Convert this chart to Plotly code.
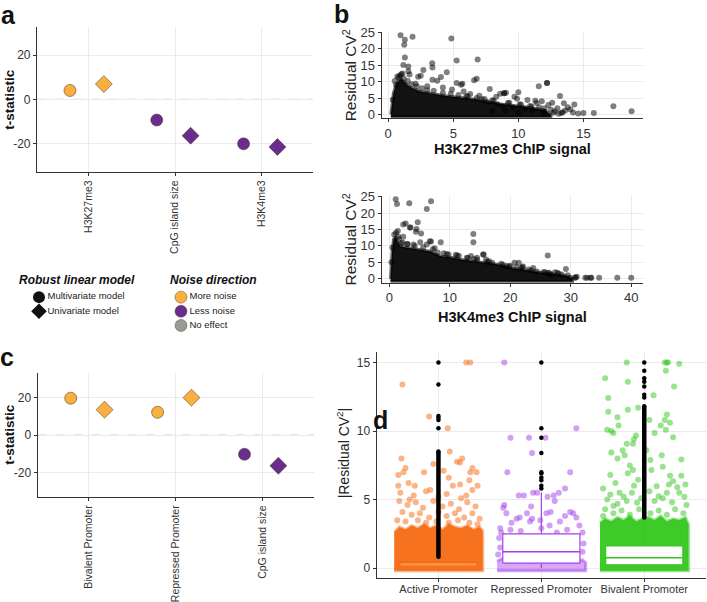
import plotly.graph_objects as go

W, H = 707, 602
FONT = "Liberation Sans, Arial, sans-serif"
ORANGE = "#F9B040"
PURPLE = "#6A2D8F"
GREY = "#9A9A9A"

# ---- panel a / c : robust linear model t-statistics ----
a_features = ["H3K27me3", "CpG island size", "H3K4me3"]
a_multi = [4.0, -9.4, -20.2]
a_uni = [6.9, -16.5, -21.6]

c_features = ["Bivalent Promoter", "Repressed Promoter", "CpG island size"]
c_multi = [19.7, 12.2, -10.2]
c_uni = [13.6, 20.0, -16.3]

# ---- legend ----
model_labels = ["Multivariate model", "Univariate model"]
model_symbols = ["circle", "diamond"]
noise_labels = ["More noise", "Less noise", "No effect"]
noise_colors = [ORANGE, PURPLE, GREY]

# ---- panel b : residual CV2 vs ChIP signal ----
k27_x = [0.95, 1.28, 1.87, 1.23, 1.28, 4.85, 5.26, 6.87, 1.16, 1.54, 3.38, 3.4, 2.7, 4.5, 4.05,
         3.4, 3.77, 6.8, 6.6, 5.26, 5.7, 7.8, 8.6, 8.9, 8.9, 10.0, 11.57, 12.2, 12.2, 13.2, 11.3,
         11.8, 13.5, 14.3, 17.3, 18.7, 15.8, 15.0, 14.2, 13.6, 12.5, 1.55, 1.64, 2.3, 2.5, 5.6,
         9.05, 9.7, 1.1, 0.8, 0.6, 7.2, 7.6, 8.1, 8.4, 8.8, 9.3, 9.6, 10.2, 10.5, 10.9, 11.1,
         11.6, 12.0, 12.3, 12.7, 13.0, 13.4, 14.0, 14.6, 11.4, 10.7, 9.9, 8.3, 6.3, 5.8, 4.9,
         6.0, 7.0, 12.6, 13.8, 9.0, 8.0, 10.0, 11.9, 13.1, 4.2, 3.0, 2.1,
         0.5, 0.7, 0.9, 1.0, 1.2, 1.5, 1.8, 2.2, 2.6, 3.0, 3.5, 4.2, 4.8, 5.4, 6.1, 6.8, 7.4,
         8.0, 9.2, 10.1, 11.0, 12.0, 12.8, 13.3, 0.35]
k27_y = [24.2, 22.8, 23.7, 21.3, 17.4, 23.2, 16.5, 16.8, 15.1, 14.6, 15.6, 14.3, 13.6, 12.9, 11.4,
         10.6, 10.3, 10.9, 10.4, 9.6, 9.4, 7.8, 6.3, 6.5, 6.5, 6.8, 8.6, 9.6, 9.6, 5.6, 4.2,
         4.0, 3.4, 3.0, 2.5, 1.0, 0.4, 0.4, 0.6, 1.2, 1.4, 13.2, 12.2, 11.5, 11.8, 9.1,
         6.6, 5.4, 12.5, 11.3, 9.0, 4.6, 3.8, 4.2, 3.1, 2.4, 3.6, 2.0, 3.0, 1.8, 2.6, 1.2,
         2.2, 0.8, 2.9, 0.5, 1.9, 0.7, 1.5, 0.3, 3.5, 4.4, 4.8, 5.4, 6.2, 7.0, 7.6,
         5.5, 5.7, 3.6, 2.2, 1.2, 1.0, 0.6, 0.3, 0.2, 8.2, 8.6, 9.4,
         10.2, 11.6, 11.9, 12.3, 11.0, 10.2, 9.2, 8.6, 8.0, 7.4, 7.2, 6.6, 6.3, 5.9, 5.6, 5.0, 4.7,
         4.3, 3.5, 3.0, 2.4, 1.9, 1.0, 0.4, 4.5]
k27_core_x = [0.2, 0.4, 0.6, 0.8, 1.0, 1.3, 1.6, 2.0, 2.5, 3.2, 4.0, 4.5, 5.2, 5.8, 6.5, 7.2,
              7.8, 8.5, 9.6, 10.5, 11.2, 12.0, 12.5, 12.5, 0.2]
k27_core_y = [0.0, 6.5, 9.0, 10.3, 10.8, 9.5, 8.5, 7.8, 7.0, 6.5, 5.9, 5.6, 5.3, 5.1, 4.7, 4.2,
              3.7, 3.3, 2.7, 2.3, 1.9, 1.3, 0.0, -0.8, -0.8]

k4_x = [1.06, 1.27, 3.3, 6.9, 6.2, 2.3, 2.7, 3.4, 4.7, 4.5, 5.25, 4.4, 1.4, 2.3, 1.6, 13.9, 13.9,
        8.5, 6.9, 11.0, 15.5, 26.2, 29.2, 20.7, 21.4, 23.8, 22.0, 26.5, 27.8, 27.4, 32.4, 32.7,
        33.4, 34.7, 37.7, 40.0, 29.9, 30.7, 33.3, 13.5, 14.5, 15.6, 16.0, 19.4, 22.1, 24.4,
        6.7, 6.2, 5.1, 3.5, 9.0, 11.5, 7.5, 4.0, 3.0, 12.8, 16.5, 18.5, 19.8, 21.0, 23.0,
        25.5, 26.8, 28.5, 31.0, 2.0, 9.8, 14.0, 17.0, 26.3,
        0.5, 0.8, 1.1, 1.5, 2.2, 3.0, 4.2, 5.6, 7.2, 8.0, 9.5, 11.2, 13.0, 14.5, 16.2, 18.8,
        20.0, 21.8, 23.5, 25.8, 28.0, 29.5, 30.8, 0.35]
k4_y = [24.2, 22.7, 23.0, 23.6, 21.2, 16.5, 16.8, 15.6, 17.2, 15.1, 13.8, 14.3, 14.5, 12.8, 12.1,
        13.6, 11.1, 11.1, 11.3, 7.3, 7.4, 7.1, 3.0, 4.9, 4.9, 3.3, 3.5, 1.7, 1.8, 2.0, 0.3, 0.3,
        0.3, 0.3, 0.3, 0.3, 0.3, 0.3, 0.3, 6.9, 6.4, 7.4, 5.9, 3.9, 3.7, 2.2,
        11.4, 10.4, 11.1, 15.6, 7.8, 7.0, 9.3, 10.4, 10.6, 6.4, 5.3, 4.6, 3.8, 3.5, 2.8,
        2.1, 1.2, 1.3, 0.6, 10.8, 7.4, 6.0, 4.9, 1.8,
        9.5, 13.5, 14.0, 12.8, 11.0, 10.6, 10.0, 9.6, 9.0, 8.0, 7.5, 7.0, 6.3, 5.8, 5.2, 4.3,
        3.9, 3.2, 2.6, 2.0, 1.5, 1.1, 0.4, 5.0]
k4_core_x = [0.2, 0.45, 0.7, 1.0, 1.3, 1.8, 2.6, 3.4, 5.1, 6.7, 8.4, 10.6, 12.3, 15.0, 17.8,
             20.5, 22.7, 25.0, 27.0, 29.0, 30.3, 30.3, 0.2]
k4_core_y = [0.0, 8.0, 12.0, 12.8, 11.5, 9.9, 9.6, 9.4, 8.9, 8.4, 6.9, 6.4, 5.7, 5.1, 4.4,
             3.1, 2.5, 1.8, 1.4, 1.0, 0.0, -0.8, -0.8]

# ---- panel d : |residual CV2| by promoter class ----
d_groups = ["Active Promoter", "Repressed Promoter", "Bivalent Promoter"]
d_colors = ["#F76A12", "#A43FEA", "#34C81F"]

act_off = [-0.09, 0.09, -0.36, 0.23, 0.21, 0.11, 0.18, -0.05, -0.32, -0.39, -0.34, -0.14, 0.05,
           0.1, 0.31, 0.37, 0.33, 0.30, -0.29, -0.23, -0.37, -0.39, -0.08, 0.14, 0.21, 0.38,
           0.27, 0.08, -0.24, 0.27, 0.31, -0.35, -0.38, -0.3, -0.22, -0.15, -0.05, 0.04, 0.12,
           0.2, 0.28, 0.36, -0.35, -0.26, -0.18, -0.09, 0.0, 0.08, 0.16, 0.25, 0.33, 0.4, -0.4,
           -0.32, -0.2, -0.12, -0.02, 0.1, 0.19, 0.3, 0.38, -0.28, 0.0, 0.22, -0.12, 0.33]
act_val = [11.05, 10.2, 8.0, 8.0, 7.7, 8.5, 7.75, 7.6, 7.3, 6.8, 7.0, 7.0, 7.1,
           6.6, 7.0, 7.0, 7.3, 6.4, 6.2, 6.0, 5.5, 6.0, 5.7, 6.0, 6.1, 6.0,
           5.3, 5.4, 5.3, 15.0, 15.0, 13.4, 4.9, 4.6, 4.8, 4.4, 4.9, 4.5, 4.7,
           4.3, 4.8, 4.5, 4.1, 3.9, 4.0, 3.7, 4.1, 3.8, 4.0, 3.7, 4.0, 3.6, 3.5,
           3.4, 3.5, 3.3, 3.4, 3.3, 3.5, 3.3, 3.2, 5.0, 5.2, 5.1, 5.6, 5.7]
rep_off = [-0.30, -0.12, 0.04, 0.34, -0.33, 0.28, -0.09, 0.23, 0.17, 0.12, 0.06, -0.04, -0.08,
           -0.17, -0.22, -0.36, -0.37, -0.34, -0.29, -0.24, -0.21, -0.14, -0.11, -0.09, -0.01,
           0.05, 0.09, 0.13, 0.18, 0.23, 0.28, 0.31, 0.34, 0.37, 0.08, -0.10, -0.40, -0.36,
           -0.41, -0.40, -0.42, 0.40, 0.41, 0.40, -0.39, -0.3, -0.2, 0.0, 0.15, 0.25]
rep_val = [9.5, 9.5, 9.5, 10.2, 7.0, 7.0, 8.4, 5.8, 5.5, 5.3, 5.2, 5.5, 5.5,
           5.3, 5.3, 4.6, 4.4, 4.0, 3.3, 3.6, 3.7, 4.0, 3.4, 3.6, 3.5,
           4.0, 4.1, 4.9, 3.4, 3.8, 4.1, 4.0, 3.7, 3.1, 3.1, 4.5, 2.9, 15.0,
           2.2, 1.5, 1.0, 2.6, 1.8, 1.2, 2.6, 2.8, 2.7, 2.9, 2.6, 2.8]
biv_off = [-0.17, 0.2, 0.22, 0.23, 0.34, 0.21, -0.38, -0.16, 0.29, 0.09, -0.35, -0.06, -0.16,
           -0.35, 0.22, -0.26, 0.2, 0.25, 0.05, -0.25, -0.36, -0.32, -0.3, 0.16, 0.21, 0.1,
           0.28, -0.1, 0.36, -0.17, -0.21, -0.11, -0.08, -0.32, -0.26, -0.19, -0.14, -0.11,
           -0.33, -0.28, -0.16, -0.06, 0.18, 0.25, 0.28, 0.36, 0.40, 0.34, 0.22, 0.14, 0.07,
           0.12, -0.24, -0.33, -0.17, -0.30, -0.07, 0.02, 0.06, 0.17, -0.4, -0.36, -0.26, -0.2,
           -0.12, -0.03, 0.05, 0.1, 0.18, 0.27, 0.32, 0.39, -0.38, -0.3, -0.22, -0.14, -0.05,
           0.06, 0.14, 0.22, 0.3, 0.38, -0.4, 0.41, -0.1, 0.24]
biv_val = [15.0, 15.0, 15.0, 15.0, 14.9, 14.4, 13.85, 13.6, 13.25, 12.6, 12.4, 11.7, 11.55,
           11.4, 11.2, 11.0, 10.8, 10.6, 10.8, 10.4, 10.1, 10.0, 9.85, 10.4, 10.1, 9.85,
           9.55, 9.4, 7.93, 9.07, 8.6, 9.07, 9.67, 8.43, 8.0, 8.24, 7.48, 7.16,
           6.8, 6.2, 6.92, 6.45, 7.4, 6.73, 6.33, 6.73, 6.09, 5.49, 5.49, 5.25, 7.16,
           5.97, 5.49, 5.37, 4.89, 4.53, 4.77, 8.6, 7.88, 8.24, 5.8, 5.0, 4.7, 5.2,
           5.5, 5.1, 5.6, 4.9, 5.1, 4.8, 5.9, 5.2, 4.3, 4.0, 4.2, 3.9, 4.3,
           4.0, 4.2, 3.9, 4.3, 4.0, 3.8, 4.6, 6.0, 6.1]

# dense jitter cores (ragged top of the overplotted band)
core_off = [-0.43, -0.38, -0.32, -0.26, -0.2, -0.14, -0.08, -0.02, 0.04, 0.1, 0.16, 0.22, 0.28,
            0.34, 0.4, 0.43]
act_core_top = [2.6, 3.0, 2.8, 3.1, 2.9, 3.2, 2.9, 3.1, 2.8, 3.2, 3.0, 2.9, 3.1, 2.8, 3.0, 2.7]
rep_core_top = [0.5, 0.7, 0.4, 0.6, 0.5, 0.8, 0.4, 0.6, 0.5, 0.7, 0.6, 0.5, 0.7, 0.5, 0.6, 0.4]
biv_core_top = [3.3, 3.6, 3.4, 3.7, 3.5, 3.8, 3.4, 3.6, 3.7, 3.5, 3.8, 3.4, 3.6, 3.5, 3.7, 3.2]
core_floor = -0.2

# boxplot stats: lower, q1, median, q3, upper
box_low = [0.0, 0.0, 0.0]
box_q1 = [0.17, 0.36, 0.24]
box_med = [0.3, 1.19, 0.76]
box_q3 = [0.42, 2.5, 1.62]
box_up = [0.8, 5.5, 3.65]
# outliers drawn by the boxplot (sparse ones and the dense stacked run)
act_out = [15.0, 13.4, 11.1, 10.96, 10.8, 10.2]
rep_out = [15.0, 10.2, 9.5, 8.4, 7.0, 6.9, 6.6, 6.4, 6.0, 5.8]
biv_out = [15.0, 14.4, 13.85, 13.6, 13.25, 12.65, 12.45]
out_runs = [(0.83, 8.5), None, (3.7, 11.8)]


def px_x(p):
    return p / W


def px_y(p):
    return 1 - p / H


fig = go.Figure()
tick_font = dict(family=FONT, size=12, color="#333")


def axis(dom, rng, **kw):
    d = dict(domain=dom, range=rng, showline=True, linecolor="#333", linewidth=1.2,
             ticks="outside", ticklen=3, tickcolor="#333", gridcolor="#EBEBEB", gridwidth=0.8,
             zeroline=False, tickfont=tick_font, fixedrange=True)
    d.update(kw)
    return d


# ---- t-statistic panels ----
def tstat_panel(feats, multi, uni, xa, ya):
    for vals, sym, dx in ((multi, "circle", -0.21), (uni, "diamond", 0.18)):
        fig.add_trace(go.Scatter(
            x=[i + 1 + dx for i in range(len(feats))], y=vals, mode="markers",
            xaxis=xa, yaxis=ya, showlegend=False,
            marker=dict(symbol=sym, size=12 if sym == "circle" else 13,
                        color=[ORANGE if v > 0 else PURPLE for v in vals],
                        line=dict(color="rgba(70,50,25,0.75)", width=0.7)),
        ))
    fig.add_shape(type="line", xref=xa + " domain", yref=ya, x0=0, x1=1, y0=0, y1=0,
                  line=dict(color="#BBBBBB", width=1, dash="dash"), layer="below")


tstat_panel(a_features, a_multi, a_uni, "x", "y")
tstat_panel(c_features, c_multi, c_uni, "x4", "y4")

# ---- scatter panels ----
for cx, cy, xs, ys, xa, ya in ((k27_core_x, k27_core_y, k27_x, k27_y, "x2", "y2"),
                               (k4_core_x, k4_core_y, k4_x, k4_y, "x3", "y3")):
    fig.add_trace(go.Scatter(x=cx, y=cy, fill="toself", mode="lines", xaxis=xa, yaxis=ya,
                             fillcolor="rgba(0,0,0,0.93)", line=dict(color="rgba(0,0,0,0.6)", width=3),
                             showlegend=False, hoverinfo="skip"))
    fig.add_trace(go.Scatter(x=xs, y=ys, mode="markers", xaxis=xa, yaxis=ya, showlegend=False,
                             marker=dict(size=6, color="rgba(0,0,0,0.5)")))

# ---- promoter panel ----
offs = [act_off, rep_off, biv_off]
vals = [act_val, rep_val, biv_val]
tops = [act_core_top, rep_core_top, biv_core_top]
core_alpha = [0.95, 0.45, 0.95]
for g in range(3):
    c = d_colors[g]
    r, gg, b = int(c[1:3], 16), int(c[3:5], 16), int(c[5:7], 16)
    cx = [g + 1 + o for o in core_off] + [g + 1 + core_off[-1], g + 1 + core_off[0]]
    cy = tops[g] + [core_floor, core_floor]
    fig.add_trace(go.Scatter(x=cx, y=cy, fill="toself", mode="lines", xaxis="x5", yaxis="y5",
                             fillcolor=f"rgba({r},{gg},{b},{core_alpha[g]})",
                             line=dict(color=f"rgba({r},{gg},{b},0.5)", width=3),
                             showlegend=False, hoverinfo="skip"))
    fig.add_trace(go.Scatter(x=[g + 1 + o for o in offs[g]], y=vals[g], mode="markers",
                             xaxis="x5", yaxis="y5", showlegend=False,
                             marker=dict(size=6, color=f"rgba({r},{gg},{b},0.5)")))

half = 0.375
for g in range(3):
    c = d_colors[g]
    x0, x1, xc = g + 1 - half, g + 1 + half, g + 1
    # whiskers
    fig.add_trace(go.Scatter(x=[xc, xc, None, xc, xc], y=[box_q3[g], box_up[g], None, box_q1[g], box_low[g]],
                             mode="lines", xaxis="x5", yaxis="y5", showlegend=False,
                             line=dict(color=c, width=1.2)))
    fig.add_trace(go.Scatter(x=[x0, x1, x1, x0, x0], y=[box_q1[g], box_q1[g], box_q3[g], box_q3[g], box_q1[g]],
                             fill="toself", fillcolor="white", mode="lines", xaxis="x5", yaxis="y5",
                             showlegend=False, line=dict(color=c, width=1.2)))
    fig.add_trace(go.Scatter(x=[x0, x1], y=[box_med[g], box_med[g]], mode="lines", xaxis="x5",
                             yaxis="y5", showlegend=False, line=dict(color=c, width=1.6)))

for g, outs in enumerate((act_out, rep_out, biv_out)):
    fig.add_trace(go.Scatter(x=[g + 1] * len(outs), y=outs, mode="markers", xaxis="x5", yaxis="y5",
                             showlegend=False, marker=dict(size=4.5, color="black")))
    if out_runs[g]:
        fig.add_trace(go.Scatter(x=[g + 1, g + 1], y=list(out_runs[g]), mode="lines+markers",
                                 xaxis="x5", yaxis="y5", showlegend=False,
                                 line=dict(color="black", width=4.5),
                                 marker=dict(size=4.5, color="black")))

# ---- legend (drawn as key markers on a hidden axis) ----
fig.add_trace(go.Scatter(x=[0] * len(model_labels), y=list(range(len(model_labels))),
                         mode="markers+text", text=model_labels, textposition="middle right",
                         textfont=dict(family=FONT, size=9.5, color="#222"),
                         marker=dict(symbol=model_symbols, size=12, color="#111"),
                         xaxis="x6", yaxis="y6", showlegend=False, cliponaxis=False))
fig.add_trace(go.Scatter(x=[1] * len(noise_labels), y=list(range(len(noise_labels))),
                         mode="markers+text", text=noise_labels, textposition="middle right",
                         textfont=dict(family=FONT, size=9.5, color="#222"),
                         marker=dict(size=12, color=noise_colors,
                                     line=dict(color="rgba(70,50,25,0.6)", width=0.7)),
                         xaxis="x6", yaxis="y6", showlegend=False, cliponaxis=False))

cat_ticks = dict(tickmode="array", tickvals=[1, 2, 3])
layout = dict(
    width=W, height=H, margin=dict(l=0, r=0, t=0, b=0), paper_bgcolor="white",
    plot_bgcolor="white", font=dict(family=FONT, color="#222"),
    xaxis=axis([px_x(37), px_x(313)], [0.41, 3.59], ticktext=a_features, tickangle=-90,
               tickfont=dict(family=FONT, size=10.5, color="#333"), **cat_ticks),
    yaxis=axis([px_y(169), px_y(20)], [-33, 33], tickvals=[-20, 0, 20], ticktext=["-20", "0", "20"]),
    xaxis4=axis([px_x(37.7), px_x(314)], [0.41, 3.59], ticktext=c_features, tickangle=-90,
                tickfont=dict(family=FONT, size=10.5, color="#333"), anchor="y4", **cat_ticks),
    yaxis4=axis([px_y(501.7), px_y(375)], [-33, 33], tickvals=[-20, 0, 20], ticktext=["-20", "0", "20"],
                anchor="x4"),
    xaxis2=axis([px_x(381.7), px_x(643.3)], [-0.5, 19.6], tickvals=[0, 5, 10, 15], anchor="y2",
                tickfont=dict(family=FONT, size=13, color="#333")),
    yaxis2=axis([px_y(114), px_y(25.5)], [-1.2, 25.2], tickvals=[0, 5, 10, 15, 20, 25], anchor="x2",
                tickfont=dict(family=FONT, size=13, color="#333")),
    xaxis3=axis([px_x(381.7), px_x(643.3)], [-1.26, 42], tickvals=[0, 10, 20, 30, 40], anchor="y3",
                tickfont=dict(family=FONT, size=13, color="#333")),
    yaxis3=axis([px_y(282.3), px_y(193.4)], [-1.2, 25.2], tickvals=[0, 5, 10, 15, 20, 25], anchor="x3",
                tickfont=dict(family=FONT, size=13, color="#333")),
    xaxis5=axis([px_x(376.7), px_x(706)], [0.4, 3.6], ticktext=d_groups, anchor="y5",
                tickfont=dict(family=FONT, size=11, color="#333"), ticklabelstandoff=-3, **cat_ticks),
    yaxis5=axis([px_y(585), px_y(353.4)], [-0.75, 15.75], tickvals=[0, 5, 10, 15], anchor="x5"),
    xaxis6=dict(domain=[0, px_x(300)], range=[-39 / 142, -39 / 142 + 300 / 142], visible=False,
                anchor="y6", fixedrange=True),
    yaxis6=dict(domain=[px_y(335), px_y(285)], range=[-0.83 + 50 / 14.5, -0.83], visible=False,
                anchor="x6", fixedrange=True),
)
fig.update_layout(**layout)


def note(text, x, y, size, angle=0, xanchor="center", color="#111"):
    fig.add_annotation(text=text, x=px_x(x), y=px_y(y), xref="paper", yref="paper",
                       showarrow=False, textangle=angle, xanchor=xanchor, yanchor="middle",
                       font=dict(family=FONT, size=size, color=color))


# panel letters
note("<b>a</b>", 8, 8, 25)
note("<b>b</b>", 341, 7, 25)
note("<b>c</b>", 7, 358, 25)
note("<b>d</b>", 381, 423, 25)
# axis titles
note("<b>t-statistic</b>", 10, 95, 13.5, -90)
note("<b>t-statistic</b>", 10, 438, 13.5, -90)
note("Residual CV<sup>2</sup>", 350, 70, 15.5, -90, color="#222")
note("Residual CV<sup>2</sup>", 350, 238, 15.5, -90, color="#222")
note("<b>H3K27me3 ChIP signal</b>", 512, 145, 14.5)
note("<b>H3K4me3 ChIP signal</b>", 512, 317, 14.5)
note("|Residual CV<sup>2</sup>|", 343, 457, 14, -90, color="#222")
# legend titles
note("<b><i>Robust linear model</i></b>", 77, 280, 12)
note("<b><i>Noise direction</i></b>", 168, 280, 12, xanchor="left")

fig.write_html("out.html", config={"displayModeBar": False},
               post_script="document.body.style.margin='0';document.body.style.overflow='hidden';")
